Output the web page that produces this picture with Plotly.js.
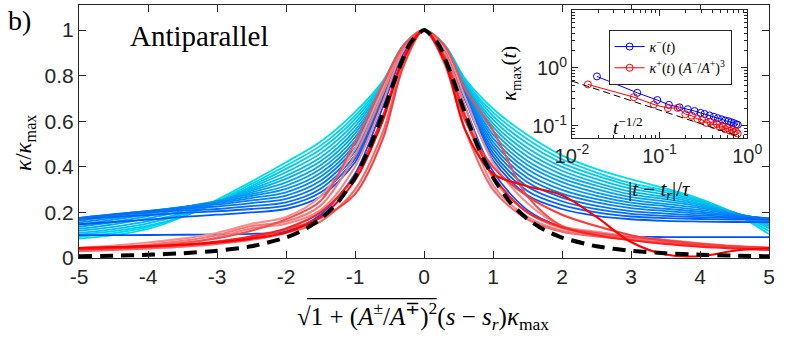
<!DOCTYPE html>
<html>
<head>
<meta charset="utf-8">
<script src="https://cdn.plot.ly/plotly-3.0.1.min.js"></script>
<style>html,body{margin:0;padding:0;background:#fff;}#chart{width:789px;height:345px;}</style>
</head>
<body>
<div id="chart"></div>
<script>
// ---------- main panel data ----------
const xGrid = [-5,-4.5,-4,-3.5,-3,-2.5,-2,-1.5,-1,-0.6,-0.3,0,0.3,0.6,1,1.5,2,2.5,3,3.5,4,4.5,5];

const blueK0  = [0.100,0.100,0.101,0.102,0.103,0.106,0.117,0.190,0.370,0.660,0.895,1,0.895,0.660,0.380,0.210,0.135,0.100,0.093,0.092,0.092,0.092,0.092];
const blueK1  = [0.148,0.158,0.168,0.180,0.190,0.200,0.215,0.270,0.420,0.685,0.905,1,0.905,0.690,0.430,0.275,0.215,0.185,0.170,0.163,0.160,0.158,0.157];
const blueK2  = [0.172,0.180,0.188,0.198,0.205,0.215,0.230,0.287,0.436,0.691,0.907,1,0.907,0.697,0.446,0.294,0.232,0.200,0.182,0.175,0.171,0.169,0.168];
const blueK3  = [0.176,0.190,0.200,0.209,0.215,0.228,0.244,0.304,0.451,0.698,0.909,1,0.909,0.704,0.462,0.313,0.249,0.214,0.194,0.185,0.179,0.175,0.172];
const blueK4  = [0.175,0.192,0.206,0.217,0.226,0.241,0.259,0.321,0.467,0.704,0.911,1,0.911,0.710,0.478,0.332,0.265,0.229,0.206,0.195,0.187,0.181,0.175];
const blueK5  = [0.170,0.190,0.207,0.222,0.235,0.253,0.274,0.339,0.483,0.711,0.914,1,0.914,0.717,0.494,0.351,0.282,0.244,0.219,0.206,0.195,0.185,0.174];
const blueK6  = [0.163,0.184,0.204,0.224,0.241,0.263,0.288,0.356,0.499,0.717,0.916,1,0.916,0.724,0.510,0.370,0.299,0.258,0.231,0.216,0.203,0.189,0.172];
const blueK7  = [0.155,0.176,0.199,0.223,0.246,0.272,0.303,0.373,0.514,0.724,0.918,1,0.918,0.731,0.526,0.389,0.316,0.273,0.243,0.227,0.211,0.192,0.169];
const blueK8  = [0.146,0.168,0.193,0.222,0.250,0.280,0.317,0.390,0.530,0.730,0.920,1,0.920,0.738,0.542,0.408,0.333,0.287,0.255,0.237,0.219,0.195,0.165];
const blueK9  = [0.137,0.158,0.184,0.216,0.250,0.288,0.332,0.407,0.546,0.736,0.922,1,0.922,0.744,0.559,0.426,0.349,0.302,0.267,0.248,0.226,0.197,0.160];
const blueK10 = [0.128,0.148,0.174,0.207,0.248,0.295,0.347,0.424,0.561,0.743,0.924,1,0.924,0.751,0.575,0.445,0.366,0.317,0.279,0.258,0.233,0.198,0.154];
const blueK11 = [0.119,0.137,0.162,0.197,0.245,0.302,0.361,0.441,0.577,0.749,0.926,1,0.926,0.758,0.591,0.464,0.383,0.331,0.291,0.268,0.239,0.199,0.147];
const blueK12 = [0.110,0.127,0.152,0.190,0.243,0.309,0.376,0.459,0.593,0.756,0.929,1,0.929,0.765,0.607,0.483,0.400,0.346,0.304,0.278,0.245,0.199,0.139];
const blueK13 = [0.102,0.118,0.142,0.182,0.242,0.316,0.391,0.476,0.609,0.762,0.931,1,0.931,0.772,0.623,0.502,0.416,0.361,0.316,0.288,0.250,0.198,0.130];
const blueK14 = [0.093,0.109,0.135,0.181,0.248,0.325,0.405,0.493,0.624,0.769,0.933,1,0.933,0.778,0.639,0.521,0.433,0.375,0.328,0.297,0.255,0.197,0.118];
const blueK15 = [0.085,0.100,0.128,0.180,0.255,0.335,0.420,0.510,0.640,0.775,0.935,1,0.935,0.785,0.655,0.540,0.450,0.390,0.345,0.305,0.260,0.195,0.105];
const blueColors = ['#0050ff','#0059fe','#0063fc','#006cfb','#0075fa','#007ff8','#0088f7','#0091f6',
                    '#009bf4','#00a4f3','#00adf2','#00b7f0','#00c0ef','#00c9ee','#00d3ec','#00dceb'];

const red0 = [0.044,0.048,0.052,0.058,0.068,0.085,0.112,0.180,0.340,0.600,0.870,1,0.860,0.560,0.370,0.315,0.275,0.180,0.070,0.015,0.008,0.032,0.044];
const red1 = [0.040,0.046,0.054,0.066,0.087,0.120,0.170,0.250,0.510,0.760,0.930,1,0.930,0.740,0.560,0.270,0.140,0.110,0.092,0.078,0.062,0.050,0.042];
const red2 = [0.035,0.045,0.058,0.075,0.100,0.140,0.160,0.230,0.450,0.720,0.920,1,0.900,0.660,0.350,0.200,0.130,0.105,0.088,0.073,0.058,0.046,0.037];
const red3 = [0.032,0.040,0.050,0.065,0.090,0.130,0.150,0.210,0.400,0.680,0.910,1,0.880,0.620,0.320,0.180,0.120,0.100,0.085,0.070,0.056,0.045,0.035];
const red4 = [0.030,0.035,0.042,0.050,0.062,0.080,0.110,0.160,0.300,0.550,0.850,1,0.850,0.560,0.300,0.170,0.115,0.095,0.080,0.067,0.055,0.045,0.038];
const red5 = [0.038,0.042,0.048,0.056,0.068,0.088,0.125,0.175,0.280,0.520,0.840,1,0.860,0.600,0.400,0.270,0.190,0.140,0.100,0.075,0.060,0.050,0.045];
const red6 = [0.045,0.055,0.068,0.085,0.110,0.150,0.180,0.270,0.480,0.740,0.930,1,0.920,0.700,0.420,0.240,0.140,0.115,0.095,0.080,0.065,0.053,0.045];
const red7 = [0.040,0.044,0.050,0.058,0.072,0.095,0.130,0.200,0.360,0.620,0.880,1,0.880,0.620,0.360,0.200,0.135,0.100,0.078,0.062,0.050,0.042,0.036];
const redColors = {red0:'#ff0000', red1:'#f05050', red2:'#f47a7a', red3:'#f58585', red4:'#f06a6a', red5:'#fa3c3c', red6:'#f59090', red7:'#ff2020'};

const dashX = [-5,-4.5,-4,-3.5,-3,-2.5,-2,-1.75,-1.5,-1.25,-1,-0.8,-0.6,-0.4,-0.2,0,0.2,0.4,0.6,0.8,1,1.25,1.5,1.75,2,2.5,3,3.5,4,4.5,5];
const dashY = [0.0075,0.0102,0.0143,0.0207,0.0316,0.0512,0.0894,0.1221,0.1707,0.2438,0.3536,0.4761,0.6305,0.8004,0.9429,1,
               0.9429,0.8004,0.6305,0.4761,0.3536,0.2438,0.1707,0.1221,0.0894,0.0512,0.0316,0.0207,0.0143,0.0102,0.0075];

const xTickVals = [-5,-4,-3,-2,-1,0,1,2,3,4,5];
const xTickText = ['-5','-4','-3','-2','-1','0','1','2','3','4','5'];
const yTickVals = [0,0.2,0.4,0.6,0.8,1];
const yTickText = ['0','0.2','0.4','0.6','0.8','1'];

// ---------- inset data ----------
const insetTminus = [0.0193,0.0557,0.0942,0.1277,0.169,0.210,0.251,0.294,0.326,0.372,0.416,0.462,0.513,0.561,0.612,0.656,0.703,0.749,0.781];
const insetKminus = [0.716,0.373,0.280,0.232,0.210,0.195,0.181,0.168,0.161,0.152,0.144,0.136,0.130,0.124,0.121,0.116,0.112,0.107,0.105];
const insetTplus  = [0.0152,0.0509,0.086,0.1245,0.161,0.197,0.233,0.270,0.306,0.342,0.379,0.415,0.452,0.488,0.524,0.561,0.597,0.633,0.670,0.706,0.742,0.779];
const insetKplus  = [0.521,0.314,0.235,0.203,0.205,0.160,0.150,0.132,0.128,0.113,0.118,0.104,0.108,0.095,0.098,0.088,0.092,0.083,0.086,0.078,0.081,0.074];
const refT = [0.01,0.74];
const refK = [0.594,0.069];
const insetXTickVals = [0.01,0.1,1];
const insetXTickText = ['10<sup>-2</sup>','10<sup>-1</sup>','10<sup>0</sup>'];
const insetYTickVals = [0.1,1,10];
const insetYTickText = ['10<sup>-1</sup>','10<sup>0</sup>','10<sup>1</sup>'];

// ---------- build traces ----------
const blueList = [blueK0,blueK1,blueK2,blueK3,blueK4,blueK5,blueK6,blueK7,blueK8,blueK9,blueK10,blueK11,blueK12,blueK13,blueK14,blueK15];
const traces = [];
for (let k = blueList.length - 1; k >= 0; k--) {
  traces.push({x:xGrid, y:blueList[k], type:'scatter', mode:'lines', showlegend:false, hoverinfo:'skip',
    line:{color:blueColors[k], width:1.8, shape:'spline', smoothing:0.9}});
}
const redOrder = [['red6',red6],['red3',red3],['red2',red2],['red4',red4],['red1',red1],['red5',red5],['red7',red7],['red0',red0]];
redOrder.forEach(([name, arr]) => {
  traces.push({x:xGrid, y:arr, type:'scatter', mode:'lines', showlegend:false, hoverinfo:'skip',
    line:{color:redColors[name], width:2.1, shape:'spline', smoothing:0.9}});
});
traces.push({x:dashX, y:dashY, type:'scatter', mode:'lines', showlegend:false, hoverinfo:'skip',
  line:{color:'#000000', width:4, dash:'13px,8px', shape:'spline', smoothing:0.6}});

// inset
traces.push({x:insetTminus, y:insetKminus, xaxis:'x2', yaxis:'y2', type:'scatter', mode:'lines+markers',
  name:'<i>κ</i><sup>−</sup>(<i>t</i>)', line:{color:'#0000ff', width:1}, marker:{symbol:'circle-open', size:7, color:'#0000ff', line:{width:1}}});
traces.push({x:insetTplus, y:insetKplus, xaxis:'x2', yaxis:'y2', type:'scatter', mode:'lines+markers',
  name:'<i>κ</i><sup>+</sup>(<i>t</i>) (<i>A</i><sup>−</sup>/<i>A</i><sup>+</sup>)<sup>3</sup>', line:{color:'#ff0000', width:1}, marker:{symbol:'circle-open', size:7, color:'#ff0000', line:{width:1}}});
traces.push({x:refT, y:refK, xaxis:'x2', yaxis:'y2', type:'scatter', mode:'lines', showlegend:false,
  line:{color:'#000000', width:1, dash:'7px,4px'}});

const axColor = '#262626';
const tickFont = {family:'Liberation Sans, Arial, sans-serif', size:21, color:axColor};
const insetTickFont = {family:'Liberation Sans, Arial, sans-serif', size:20, color:axColor};
const serif = 'Liberation Serif, Times New Roman, serif';
function px2x(p){ return (p - 79) / 690.5; }
function px2y(p){ return (258.3 - p) / 253.3; }

const layout = {
  width:789, height:345,
  margin:{l:79, r:19.5, t:5, b:86.7, pad:0},
  paper_bgcolor:'#ffffff', plot_bgcolor:'#ffffff',
  showlegend:true,
  xaxis:{range:[-5,5], domain:[0,1], tickvals:xTickVals, ticktext:xTickText, ticks:'inside', ticklen:7, tickcolor:axColor,
    showline:true, linecolor:axColor, linewidth:1, mirror:'ticks', showgrid:false, zeroline:false, tickfont:tickFont, fixedrange:true},
  yaxis:{range:[0,1.11], domain:[0,1], tickvals:yTickVals, ticktext:yTickText, ticks:'inside', ticklen:7, tickcolor:axColor,
    showline:true, linecolor:axColor, linewidth:1, mirror:'ticks', showgrid:false, zeroline:false, tickfont:tickFont, fixedrange:true},
  xaxis2:{type:'log', range:[-2,0], domain:[0.7144,0.9684], anchor:'y2', tickvals:insetXTickVals, ticktext:insetXTickText,
    ticks:'inside', ticklen:6, tickcolor:axColor, showline:true, linecolor:axColor, linewidth:1, mirror:'ticks',
    minor:{ticks:'inside', ticklen:3, tickcolor:axColor, dtick:'D1', showgrid:false},
    showgrid:false, zeroline:false, tickfont:insetTickFont},
  yaxis2:{type:'log', range:[-1.2,1], domain:[0.476,0.9803], anchor:'x2', tickvals:insetYTickVals, ticktext:insetYTickText,
    ticks:'inside', ticklen:6, tickcolor:axColor, showline:true, linecolor:axColor, linewidth:1, mirror:'ticks',
    minor:{ticks:'inside', ticklen:3, tickcolor:axColor, dtick:'D1', showgrid:false},
    showgrid:false, zeroline:false, tickfont:insetTickFont},
  legend:{x:px2x(609), y:px2y(30), xanchor:'left', yanchor:'top', bgcolor:'#ffffff', bordercolor:axColor, borderwidth:1,
    font:{family:serif, size:14, color:'#000'}, tracegroupgap:0, itemwidth:30},
  shapes:[
    {type:'line', xref:'paper', yref:'paper', x0:px2x(307), x1:px2x(437), y0:px2y(299), y1:px2y(299), line:{color:'#000', width:1.2}}
  ],
  annotations:[
    {text:'b)', xref:'paper', yref:'paper', x:px2x(19), y:px2y(21), xanchor:'center', yanchor:'middle', showarrow:false, font:{family:serif, size:28, color:'#000'}},
    {text:'Antiparallel', xref:'paper', yref:'paper', x:px2x(200), y:px2y(36), xanchor:'center', yanchor:'middle', showarrow:false, font:{family:serif, size:29, color:'#000'}},
    {text:'<i>κ</i>/<i>κ</i><sub>max</sub>', xref:'paper', yref:'paper', x:px2x(25), y:px2y(143), xanchor:'center', yanchor:'middle', textangle:-90, showarrow:false, font:{family:serif, size:23, color:'#000'}},
    {text:'√1 + (<i>A</i><sup>±</sup>/<i>A</i><sup>∓</sup>)<sup>2</sup>(<i>s</i> − <i>s</i><sub><i>r</i></sub>)<i>κ</i><sub>max</sub>', xref:'paper', yref:'paper', x:px2x(423), y:px2y(316),
      xanchor:'center', yanchor:'middle', showarrow:false, font:{family:serif, size:25, color:'#000'}},
    {text:'|<i>t</i> − <i>t</i><sub><i>r</i></sub>|/<i>τ</i>', xref:'x2 domain', yref:'y2 domain', x:0.5, y:-0.41, xanchor:'center', yanchor:'middle', showarrow:false, font:{family:serif, size:21, color:'#000'}},
    {text:'<i>κ</i><sub>max</sub>(<i>t</i>)', xref:'x2 domain', yref:'y2 domain', x:-0.35, y:0.503, xanchor:'center', yanchor:'middle', textangle:-90, showarrow:false, font:{family:serif, size:21, color:'#000'}},
    {text:'<i>t</i><sup>−1/2</sup>', xref:'x2 domain', yref:'y2 domain', x:0.318, y:0.093, xanchor:'center', yanchor:'middle', showarrow:false, font:{family:serif, size:19, color:'#000'}}
  ]
};

Plotly.newPlot('chart', traces, layout, {displayModeBar:false, staticPlot:true});
</script>
</body>
</html>
